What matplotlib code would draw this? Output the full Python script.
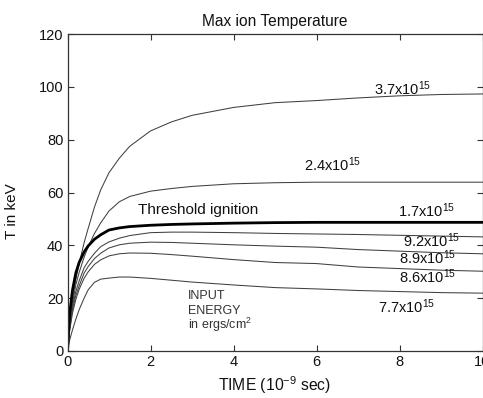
import matplotlib
matplotlib.use("Agg")
import matplotlib.pyplot as plt

plt.rcParams['font.family'] = ['Liberation Sans', 'DejaVu Sans']
plt.rcParams['mathtext.default'] = 'regular'

# time grid (1e-9 s) at which values were read
t = [0, 0.05, 0.12, 0.2, 0.28, 0.4, 0.5, 0.65, 0.8, 1.0, 1.25, 1.5, 2, 2.5, 3, 4, 5, 6, 7, 8, 9, 10]

T_37 = [0, 10, 19.5, 27, 33, 41, 46.5, 54.5, 61, 67.5, 73, 77.5, 83.3, 86.7, 89.2, 92.2, 94, 94.8, 95.8, 96.6, 97.1, 97.3]
T_24 = [0, 9, 18, 25, 29.7, 35.5, 39.5, 44.5, 48.5, 53, 56.5, 58.5, 60.5, 61.5, 62.3, 63.3, 63.7, 63.9, 63.9, 63.9, 63.9, 63.9]
T_17 = [0, 14, 23, 29.5, 33.5, 37.5, 39.8, 42.3, 44, 45.8, 46.6, 47.1, 47.6, 47.9, 48.1, 48.4, 48.6, 48.7, 48.7, 48.7, 48.7, 48.7]
T_92 = [0, 8.5, 17, 22.5, 26.5, 31.5, 34, 37, 39.5, 41.3, 42.7, 43.7, 44.8, 45, 45, 44.8, 44.5, 44.3, 44.1, 43.8, 43.5, 43.2]
T_89 = [0, 8, 15.6, 21, 24.6, 29.5, 32, 35, 37, 39, 40.2, 40.8, 41.2, 41.1, 40.8, 40.2, 39.7, 39.3, 38.4, 37.8, 37.2, 36.8]
T_86 = [0, 7.5, 14.4, 19.5, 23.3, 27.5, 30, 32.8, 34.5, 36, 36.8, 37.1, 37, 36.5, 35.9, 34.6, 33.5, 33.1, 31.8, 31.2, 30.6, 30.2]
T_77 = [0, 4, 8, 12, 15.6, 20, 23.2, 26, 27.2, 27.6, 28, 28, 27.5, 26.8, 26.1, 25, 24, 23.5, 22.9, 22.5, 22.1, 21.9]

thin_curves = [T_37, T_24, T_92, T_89, T_86, T_77]

labels = ["3.7x10$^{15}$", "2.4x10$^{15}$", "1.7x10$^{15}$", "9.2x10$^{15}$",
          "8.9x10$^{15}$", "8.6x10$^{15}$", "7.7x10$^{15}$"]
label_x = [7.39, 5.7, 7.97, 8.09, 7.99, 7.99, 7.47]
label_y = [96.9, 68.0, 50.7, 39.4, 32.8, 25.9, 14.5]

xticks = [0, 2, 4, 6, 8, 10]
yticks = [0, 20, 40, 60, 80, 100, 120]

fig = plt.figure(figsize=(4.83, 3.98), dpi=100)
ax = fig.add_axes([67.5 / 483, 47 / 398, 415 / 483, 317 / 398])

for c in thin_curves:
    ax.plot(t, c, color='0.25', lw=0.75)
ax.plot(t, T_17, color='black', lw=2.0)

for s, x, y in zip(labels, label_x, label_y):
    ax.text(x, y, s, fontsize=10.5, ha='left', va='baseline', color='#111111')

ax.text(1.71, 51.7, "Threshold ignition", fontsize=11, ha='left', va='baseline', color='#111111')
ax.text(2.9, 19.5, "INPUT", fontsize=9, ha='left', va='baseline', color='#333333')
ax.text(2.9, 14.0, "ENERGY", fontsize=9, ha='left', va='baseline', color='#333333')
ax.text(2.9, 8.2, "in ergs/cm$^{2}$", fontsize=9, ha='left', va='baseline', color='#333333')

ax.set_xlim(0, 10)
ax.set_ylim(0, 120)
ax.set_xticks(xticks)
ax.set_yticks(yticks)
ax.tick_params(direction='in', top=True, right=True, length=4, width=0.8,
               labelsize=10.5, colors='#333333', labelcolor='#111111', pad=3)
for sp in ax.spines.values():
    sp.set_color('#333333')
    sp.set_linewidth(0.9)

ax.set_title("Max ion Temperature", fontsize=11.2, color='#111111', pad=6)
ax.set_xlabel("TIME (10$^{-9}$ sec)", fontsize=11.3, color='#111111', labelpad=4)
ax.set_ylabel("T in keV", fontsize=11, color='#111111')
ax.yaxis.set_label_coords(-0.116, 0.44)

fig.savefig("out.png", dpi=100)
